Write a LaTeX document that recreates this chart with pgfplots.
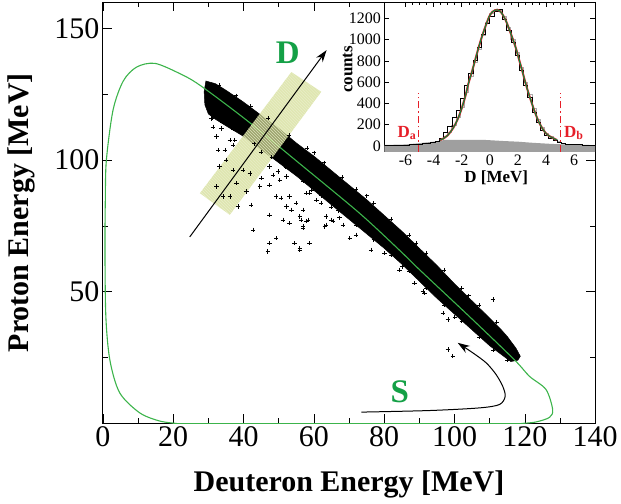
\documentclass[border=0pt]{standalone}
\usepackage{fontspec}
\setmainfont{Liberation Serif}
\usepackage{pgfplots}
\pgfplotsset{compat=1.18}
\usetikzlibrary{patterns,arrows.meta}

\definecolor{kgreen}{RGB}{60,180,75}
\definecolor{tgreen}{RGB}{20,160,70}
\definecolor{fgreen}{RGB}{0,140,60}
\definecolor{dred}{RGB}{230,30,40}
\definecolor{hatchc}{RGB}{212,222,150}

\begin{document}
\begin{tikzpicture}
% ---------------- main panel ----------------
\begin{axis}[
  scale only axis, width=493pt, height=422pt,
  xmin=0, xmax=140, ymin=0, ymax=160,
  xtick={0,20,...,140}, minor x tick num=1,
  ytick={50,100,150}, minor ytick={25,75,125},
  tick align=inside, major tick length=9pt, minor tick length=5pt,
  tick style={black, line width=0.6pt},
  axis line style={line width=0.8pt},
  /pgf/number format/assume math mode=true,
  tick label style={font=\fontsize{30}{36}\selectfont},
  xlabel={Deuteron Energy [MeV]},
  ylabel={Proton Energy [MeV]},
  label style={font=\fontsize{30}{36}\selectfont\bfseries},
  xlabel style={at={(axis description cs:0.5,-0.145)}, anchor=center},
  ylabel style={at={(axis description cs:-0.166,0.5)}, anchor=center},
]
\coordinate (bbA) at (rel axis cs:0,0);
\coordinate (ne) at (rel axis cs:1,1);

% dense event band
\addplot[fill=black, draw=black, line width=0.5pt] coordinates {
(29.3,130) (32,129) (35,126.5) (40,122) (45,117) (50,112) (55,106.5)
(60,101.5) (65,96) (70,90.5) (75,85) (80,79) (85,73) (90,66.5) (95,60)
(100,53) (105,46.5) (110,40) (113,36) (115,33) (117.5,28.5) (118.7,25.5)
(118,24) (116,23.5) (113,26.5) (110,29.5) (105,35.5) (100,41.5) (95,47.5)
(90,54) (85,60.5) (80,66.5) (75,72) (70,77.5) (65,83) (60,88.5) (55,94)
(50,99) (45,104) (40,109) (35,113) (32,115.5) (30,117.5) (29,121) (28.8,126)
} -- cycle;

% fuzzy edge of the band
\addplot[only marks, mark=+, mark size=2pt, black, line width=0.5pt] coordinates {
(33,128.5) (38,124.5) (47,115.8) (53,109.5) (58,104.5) (63,99) (68,93.5)
(72,89) (77,83.5) (82,77.5) (87,71.5) (92,64.8) (97,58.3) (102,51.3)
(107,44.9) (112,38.5) (42,120.5) (60,102.8) (75,86.5) (89,68.5) (104,48.5)
(31,116) (37,111.8) (43,106.2) (48,101.2) (52,97.2) (57,92) (62,86.5)
(67,80.8) (72,75.4) (77,69.8) (82,63.8) (87,57.9) (92,51.3) (97,45)
(102,38.7) (107,32.7) (111,27.8) (115,24) (34,114.5) (45,103) (65,82)
(85,59.5) (100,40.5)
};

% scattered events
\addplot[only marks, mark=+, mark size=2.2pt, black, line width=0.6pt] coordinates {
(30.9,115.8) (31.3,112.6) (33.7,112) (32.3,108.9) (36.1,107.6) (37.5,107.6)
(32.8,103.8) (34.7,103.8) (37,105.7) (33.2,97.5) (35.1,100) (39.8,96.2)
(41.8,94.9) (32.3,90) (38,91.2) (40.8,88) (44.6,90) (45.1,93.1) (47.4,97.5)
(48.4,94.3) (49.8,95.6) (50.3,92.4) (52.2,93.7) (47.4,90.5) (49.3,86.1)
(50.7,85.6) (53.1,86.1) (52.2,82.3) (53.6,81.1) (55,83.6) (56,78.5)
(51.2,77.3) (53.1,76) (56.9,74.8) (58.3,77.3) (56.9,81.1) (60.7,84.8)
(58.8,87.4) (62.1,83.6) (63.5,78.5) (64.9,77.3) (47.4,79.2) (42.2,83)
(42.7,73.5) (49.3,70.3) (47.4,68.4) (46.9,65.3) (54.5,68.4) (56,65.9)
(58.8,68.4) (63.5,75.4) (37,96.2) (36.1,86.1) (38.4,82.3) (34.2,86.1)
(57.9,87.4) (59.3,88.6) (56.4,77.3) (57.9,76.8) (56.9,74.2) (58.8,68.4)
(56,66.5) (63.1,74.8) (65.4,76.8) (67.3,78.1) (68.3,75.4) (70.2,70.3)
(72,71.6) (76.3,65.9) (80.1,64.6) (84.4,58.3) (88.6,53.3) (91,50.1)
(110.9,47) (98.1,28) (99.5,25.5) (91.5,49.5) (96.7,41.9) (98.1,39.4)
};

% kinematic locus
\addplot[kgreen, line width=1.1pt, smooth] coordinates {
(21,0) (16.2,0.9) (10.5,4) (4.8,11.6) (2,24) (0.85,40.6) (0.6,66) (0.7,85)
(1.0,100) (2.9,119) (5.8,130) (9.6,135.3) (14.8,136.7) (21.9,132.8)
(27.6,128.4) (40.8,115.2) (56,98.6) (73,79.8) (84.4,65.7) (90.1,58.3)
(104.3,40.5) (117,24.2) (121.3,17.9) (126,12.9) (127.9,5.3) (127,2.3)
(123,0.5) (119,0)
};
\addplot[kgreen, line width=1.2pt] coordinates {(20,0) (120,0)};

% hatched cut window
\addplot[draw=none, fill=hatchc, fill opacity=0.75] coordinates {
(53.6,133.4) (62.1,125.9) (36.1,79.2) (27.6,87.4)} -- cycle;
\addplot[draw=none, pattern=north west lines, pattern color=white!50!hatchc] coordinates {
(53.6,133.4) (62.1,125.9) (36.1,79.2) (27.6,87.4)} -- cycle;

% arrows
\draw[-{Stealth[length=12pt,width=8pt]}, line width=1pt]
  (axis cs:24.7,70.8) -- (axis cs:63.6,141.7);
\draw[-{Stealth[length=12pt,width=8pt]}, line width=1pt] plot[smooth] coordinates {
(axis cs:73.5,4.3) (axis cs:92.9,4.9) (axis cs:107.1,5.9) (axis cs:112.8,7.2)
(axis cs:114.4,10.3) (axis cs:113.7,14.1) (axis cs:111.8,18.6) (axis cs:109,23)
(axis cs:105.2,26.8) (axis cs:100.9,30.6)};

\node[tgreen, font=\fontsize{33}{36}\selectfont\bfseries] at (axis cs:52.6,140.9) {D};
\node[tgreen, font=\fontsize{33}{36}\selectfont\bfseries] at (axis cs:84.4,12.1) {S};
\end{axis}

% ---------------- inset ----------------
\begin{axis}[
  at={(ne)}, anchor=north east,
  scale only axis, width=211pt, height=150pt,
  xmin=-7.5, xmax=7.5, ymin=-55, ymax=1352,
  axis background/.style={fill=white},
  xtick={-6,-4,...,6}, minor x tick num=3,
  ytick={0,200,...,1200},
  tick align=inside, major tick length=5pt, minor tick length=3pt,
  tick style={black, line width=0.5pt},
  axis line style={line width=0.8pt},
  /pgf/number format/assume math mode=true,
  /pgf/number format/1000 sep={},
  tick label style={font=\fontsize{16}{18}\selectfont},
  xlabel={D [MeV]}, ylabel={counts},
  label style={font=\fontsize{17}{20}\selectfont\bfseries},
  xlabel style={at={(axis description cs:0.53,-0.175)}, anchor=center},
  ylabel style={at={(axis description cs:-0.175,0.55)}, anchor=center},
]
% background component
\addplot[fill=gray!75, draw=none] coordinates {
(-7.5,-55) (-7.5,9) (-6,14) (-5.1,25) (-4,40) (-3.2,56) (-2,58) (-0.3,56)
(1,46) (2,40) (3,30) (4.4,19) (6,11) (7.5,8) (7.5,-55)} -- cycle;

% second histogram
\addplot[const plot, gray!65, line width=0.9pt] coordinates {
(-3.6,60) (-3.3,85) (-3.0,130) (-2.7,190) (-2.4,265) (-2.1,365) (-1.8,500)
(-1.5,655) (-1.2,785) (-0.9,910) (-0.6,1040) (-0.3,1160) (0.0,1240)
(0.3,1280) (0.6,1270) (0.9,1215) (1.2,1115) (1.5,1000) (1.8,880) (2.1,740)
(2.4,600) (2.7,480) (3.0,350) (3.3,245) (3.6,170) (3.9,115) (4.2,88)
(4.5,62) (4.8,40) (5.1,40)
};
% measured histogram
\addplot[const plot, black, line width=0.7pt] coordinates {
(-7.5,5) (-7.2,6) (-6.9,5) (-6.6,8) (-6.3,10) (-6.0,9) (-5.7,13) (-5.4,15)
(-5.1,18) (-4.8,21) (-4.5,28) (-4.2,33) (-3.9,45) (-3.6,75) (-3.3,125)
(-3.0,185) (-2.7,270) (-2.4,330) (-2.1,450) (-1.8,570) (-1.5,680)
(-1.2,800) (-0.9,930) (-0.6,1050) (-0.3,1150) (0.0,1220) (0.3,1265)
(0.6,1285) (0.9,1190) (1.2,1085) (1.5,975) (1.8,850) (2.1,710) (2.4,570)
(2.7,455) (3.0,320) (3.3,225) (3.6,150) (3.9,100) (4.2,70) (4.5,48)
(4.8,35) (5.1,22) (5.4,18) (5.7,15) (6.0,13) (6.3,11) (6.6,9) (6.9,8)
(7.2,6) (7.5,6)
};
% fit
\addplot[dred, line width=2pt, smooth] coordinates {
(-3.55,54) (-3.25,74) (-3.0,100) (-2.62,166) (-2.3,248) (-2.04,338)
(-1.75,463) (-1.52,588) (-1.25,708) (-0.98,839) (-0.7,969) (-0.4,1090)
(-0.05,1214) (0.2,1261) (0.52,1279) (0.8,1255) (1.12,1183) (1.45,1071)
(1.82,933) (2.05,826) (2.29,713) (2.52,601) (2.76,493) (3.0,396)
(3.23,309) (3.5,222) (3.81,150) (4.1,105) (4.4,81) (4.75,57)
};
\addplot[fgreen, line width=1pt, smooth] coordinates {
(-3.55,54) (-3.25,74) (-3.0,100) (-2.62,166) (-2.3,248) (-2.04,338)
(-1.75,463) (-1.52,588) (-1.25,708) (-0.98,839) (-0.7,969) (-0.4,1090)
(-0.05,1214) (0.2,1261) (0.52,1279) (0.8,1255) (1.12,1183) (1.45,1071)
(1.82,933) (2.05,826) (2.29,713) (2.52,601) (2.76,493) (3.0,396)
(3.23,309) (3.5,222) (3.81,150) (4.1,105) (4.4,81) (4.75,57)
};
% cut limits
\addplot[dred, line width=1.3pt, dash pattern=on 7pt off 3pt on 1.5pt off 3pt]
  coordinates {(-5.1,-55) (-5.1,500)};
\addplot[dred, line width=1.3pt, dash pattern=on 7pt off 3pt on 1.5pt off 3pt]
  coordinates {(5.05,-55) (5.05,500)};
\node[dred, anchor=east, inner sep=1pt, font=\fontsize{17}{20}\selectfont\bfseries]
  at (axis cs:-5.15,122) {D\textsubscript{a}};
\node[dred, anchor=west, inner sep=1pt, font=\fontsize{17}{20}\selectfont\bfseries]
  at (axis cs:5.2,122) {D\textsubscript{b}};
\end{axis}

\path ([shift={(-103pt,-80pt)}]bbA) rectangle ([shift={(25pt,2pt)}]ne);
\end{tikzpicture}
\end{document}
